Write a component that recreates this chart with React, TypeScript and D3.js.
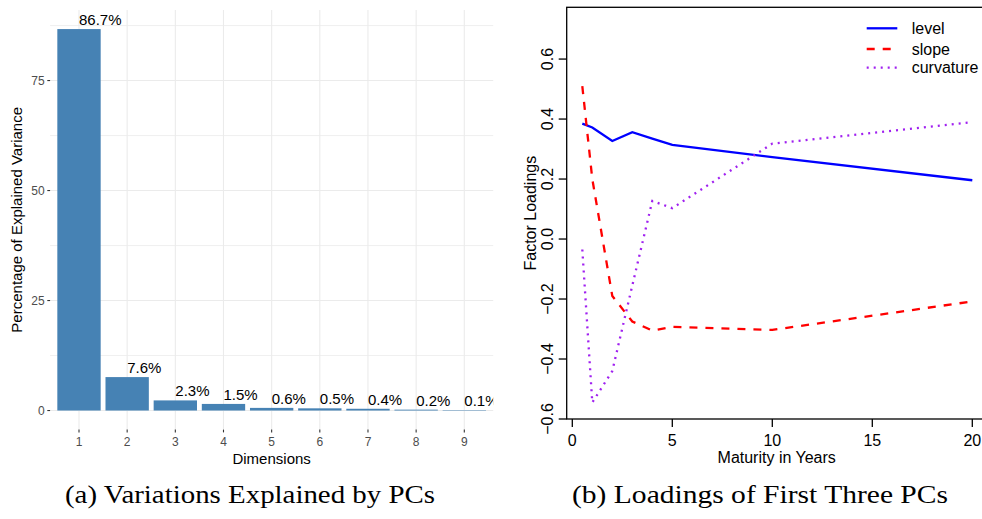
import React, { useEffect, useRef } from 'react';
import * as d3 from 'd3';

// (a) share of variance explained by each principal component
const dimensions = ['1', '2', '3', '4', '5', '6', '7', '8', '9'];
const explained = [86.7, 7.6, 2.3, 1.5, 0.6, 0.5, 0.4, 0.2, 0.1];
const yTicksLeft = [0, 25, 50, 75];
const yMinorLeft = [12.5, 37.5, 62.5, 87.5];

// (b) loadings of the first three PCs by maturity
const maturities = [0.5, 1, 2, 3, 4, 5, 10, 20];
const level = [0.385, 0.372, 0.327, 0.356, 0.335, 0.314, 0.273, 0.196];
const slope = [0.51, 0.2, -0.19, -0.275, -0.305, -0.293, -0.303, -0.208];
const curvature = [-0.035, -0.545, -0.44, -0.155, 0.127, 0.103, 0.318, 0.39];
const xTicksRight = [0, 5, 10, 15, 20];
const yTicksRight = [-0.6, -0.4, -0.2, 0, 0.2, 0.4, 0.6];

const series = [
  { name: 'level', values: level, color: '#0000FF', dash: null },
  { name: 'slope', values: slope, color: '#FF0000', dash: '8,8' },
  { name: 'curvature', values: curvature, color: '#A020F0', dash: '2,5' },
];

const sans = 'Liberation Sans, Arial, Helvetica, sans-serif';
const fmtTick = (v: number) => (v < 0 ? '\u2212' : '') + Math.abs(v).toFixed(1);

const App = () => {
  const ref = useRef<HTMLDivElement>(null);

  useEffect(() => {
    d3.select(ref.current).selectAll('*').remove();

    const width = 982;
    const height = 519;

    const svg = d3
      .select(ref.current)
      .append('svg')
      .attr('width', width)
      .attr('height', height)
      .style('position', 'absolute')
      .style('left', 0)
      .style('top', 0)
      .style('background', '#fff');

    // ---------- left: bar chart ----------
    const left = svg.append('g');
    const pL = { x0: 50.1, x1: 493.2, y0: 10, y1: 429.6 };

    const x = d3
      .scaleBand()
      .domain(dimensions)
      .range([pL.x0, pL.x1])
      .paddingInner(0.1)
      .paddingOuter(0.15);
    const y = d3.scaleLinear().domain([-4.335, 91.035]).range([pL.y1, pL.y0]);

    left
      .append('defs')
      .append('clipPath')
      .attr('id', 'panelA')
      .append('rect')
      .attr('x', pL.x0)
      .attr('y', pL.y0)
      .attr('width', pL.x1 - pL.x0)
      .attr('height', pL.y1 - pL.y0);

    // grid
    left
      .selectAll('.minor')
      .data(yMinorLeft)
      .join('line')
      .attr('x1', pL.x0)
      .attr('x2', pL.x1)
      .attr('y1', (d) => y(d))
      .attr('y2', (d) => y(d))
      .attr('stroke', '#EBEBEB')
      .attr('stroke-width', 0.8);
    left
      .selectAll('.major')
      .data(yTicksLeft)
      .join('line')
      .attr('x1', pL.x0)
      .attr('x2', pL.x1)
      .attr('y1', (d) => y(d))
      .attr('y2', (d) => y(d))
      .attr('stroke', '#EBEBEB')
      .attr('stroke-width', 1.1);
    left
      .selectAll('.vgrid')
      .data(dimensions)
      .join('line')
      .attr('x1', (d) => x(d)! + x.bandwidth() / 2)
      .attr('x2', (d) => x(d)! + x.bandwidth() / 2)
      .attr('y1', pL.y0)
      .attr('y2', pL.y1)
      .attr('stroke', '#EBEBEB')
      .attr('stroke-width', 1.1);

    // bars + labels
    const barG = left.append('g').attr('clip-path', 'url(#panelA)');
    barG
      .selectAll('rect')
      .data(explained)
      .join('rect')
      .attr('x', (d, i) => x(dimensions[i])!)
      .attr('y', (d) => y(d))
      .attr('width', x.bandwidth())
      .attr('height', (d) => y(0) - y(d))
      .attr('fill', '#4682B4');
    barG
      .selectAll('text')
      .data(explained)
      .join('text')
      .attr('x', (d, i) => x(dimensions[i])! + x.bandwidth() / 2)
      .attr('y', (d) => y(d) - 4)
      .attr('font-family', sans)
      .attr('font-size', 15)
      .attr('fill', '#000')
      .text((d) => `${d.toFixed(1)}%`);

    // axes
    left
      .selectAll('.ytick')
      .data(yTicksLeft)
      .join('line')
      .attr('x1', pL.x0 - 2.8)
      .attr('x2', pL.x0)
      .attr('y1', (d) => y(d))
      .attr('y2', (d) => y(d))
      .attr('stroke', '#333333')
      .attr('stroke-width', 1.1);
    left
      .selectAll('.ylab')
      .data(yTicksLeft)
      .join('text')
      .attr('x', pL.x0 - 5.5)
      .attr('y', (d) => y(d))
      .attr('dy', '0.35em')
      .attr('text-anchor', 'end')
      .attr('font-family', sans)
      .attr('font-size', 12)
      .attr('fill', '#4D4D4D')
      .text((d) => d);
    left
      .selectAll('.xtick')
      .data(dimensions)
      .join('line')
      .attr('x1', (d) => x(d)! + x.bandwidth() / 2)
      .attr('x2', (d) => x(d)! + x.bandwidth() / 2)
      .attr('y1', pL.y1)
      .attr('y2', pL.y1 + 2.8)
      .attr('stroke', '#333333')
      .attr('stroke-width', 1.1);
    left
      .selectAll('.xlab')
      .data(dimensions)
      .join('text')
      .attr('x', (d) => x(d)! + x.bandwidth() / 2)
      .attr('y', 441.7)
      .attr('dy', '0.35em')
      .attr('text-anchor', 'middle')
      .attr('font-family', sans)
      .attr('font-size', 12)
      .attr('fill', '#4D4D4D')
      .text((d) => d);
    left
      .append('text')
      .attr('x', (pL.x0 + pL.x1) / 2)
      .attr('y', 459)
      .attr('dy', '0.35em')
      .attr('text-anchor', 'middle')
      .attr('font-family', sans)
      .attr('font-size', 15)
      .text('Dimensions');
    left
      .append('text')
      .attr('transform', `translate(17, ${(pL.y0 + pL.y1) / 2}) rotate(-90)`)
      .attr('dy', '0.35em')
      .attr('text-anchor', 'middle')
      .attr('font-family', sans)
      .attr('font-size', 15)
      .text('Percentage of Explained Variance');

    // ---------- right: loadings ----------
    const right = svg.append('g');
    const xr = d3.scaleLinear().domain([-0.28, 20.78]).range([566.7, 987.9]);
    const yr = d3.scaleLinear().domain([-0.6, 0.7726]).range([419, 7.3]);

    right
      .append('rect')
      .attr('x', xr(-0.28))
      .attr('y', yr(0.7726))
      .attr('width', xr(20.78) - xr(-0.28))
      .attr('height', yr(-0.6) - yr(0.7726))
      .attr('fill', 'none')
      .attr('stroke', '#000')
      .attr('stroke-width', 1.3);

    right
      .selectAll('.rytick')
      .data(yTicksRight)
      .join('line')
      .attr('x1', xr(-0.28) - 8)
      .attr('x2', xr(-0.28))
      .attr('y1', (d) => yr(d))
      .attr('y2', (d) => yr(d))
      .attr('stroke', '#000')
      .attr('stroke-width', 1.3);
    right
      .selectAll('.rylab')
      .data(yTicksRight)
      .join('text')
      .attr('transform', (d) => `translate(552.5, ${yr(d)}) rotate(-90)`)
      .attr('text-anchor', 'middle')
      .attr('font-family', sans)
      .attr('font-size', 16)
      .text((d) => fmtTick(d));
    right
      .selectAll('.rxtick')
      .data(xTicksRight)
      .join('line')
      .attr('x1', (d) => xr(d))
      .attr('x2', (d) => xr(d))
      .attr('y1', yr(-0.6))
      .attr('y2', yr(-0.6) + 8)
      .attr('stroke', '#000')
      .attr('stroke-width', 1.3);
    right
      .selectAll('.rxlab')
      .data(xTicksRight)
      .join('text')
      .attr('x', (d) => xr(d))
      .attr('y', 440)
      .attr('dy', '0.35em')
      .attr('text-anchor', 'middle')
      .attr('font-family', sans)
      .attr('font-size', 16)
      .text((d) => d);
    right
      .append('text')
      .attr('x', 776.7)
      .attr('y', 457.7)
      .attr('dy', '0.35em')
      .attr('text-anchor', 'middle')
      .attr('font-family', sans)
      .attr('font-size', 16)
      .text('Maturity in Years');
    right
      .append('text')
      .attr('transform', `translate(536, ${(yr(-0.6) + yr(0.7726)) / 2}) rotate(-90)`)
      .attr('text-anchor', 'middle')
      .attr('font-family', sans)
      .attr('font-size', 16)
      .text('Factor Loadings');

    const line = d3
      .line<number>()
      .x((d, i) => xr(maturities[i]))
      .y((d) => yr(d));

    series.forEach((s) => {
      right
        .append('path')
        .attr('d', line(s.values))
        .attr('fill', 'none')
        .attr('stroke', s.color)
        .attr('stroke-width', 2.3)
        .attr('stroke-dasharray', s.dash);
    });

    // legend
    const legend = right.append('g');
    const legendY = [28.3, 49, 67.7];
    series.forEach((s, i) => {
      legend
        .append('line')
        .attr('x1', 866.7)
        .attr('x2', 897.3)
        .attr('y1', legendY[i])
        .attr('y2', legendY[i])
        .attr('stroke', s.color)
        .attr('stroke-width', 2.3)
        .attr('stroke-dasharray', s.dash);
      legend
        .append('text')
        .attr('x', 911.7)
        .attr('y', legendY[i])
        .attr('dy', '0.35em')
        .attr('font-family', sans)
        .attr('font-size', 16)
        .text(s.name);
    });

    // ---------- captions ----------
    const captions = [
      { text: '(a) Variations Explained by PCs', x: 250, w: 370 },
      { text: '(b) Loadings of First Three PCs', x: 760, w: 376 },
    ];
    svg
      .selectAll('.caption')
      .data(captions)
      .join('text')
      .attr('x', (d) => d.x)
      .attr('y', 503)
      .attr('text-anchor', 'middle')
      .attr('font-family', 'Liberation Serif, Times New Roman, serif')
      .attr('font-size', 26)
      .attr('textLength', (d) => d.w)
      .attr('lengthAdjust', 'spacingAndGlyphs')
      .text((d) => d.text);
  }, []);

  return <div ref={ref} />;
};

export default App;
